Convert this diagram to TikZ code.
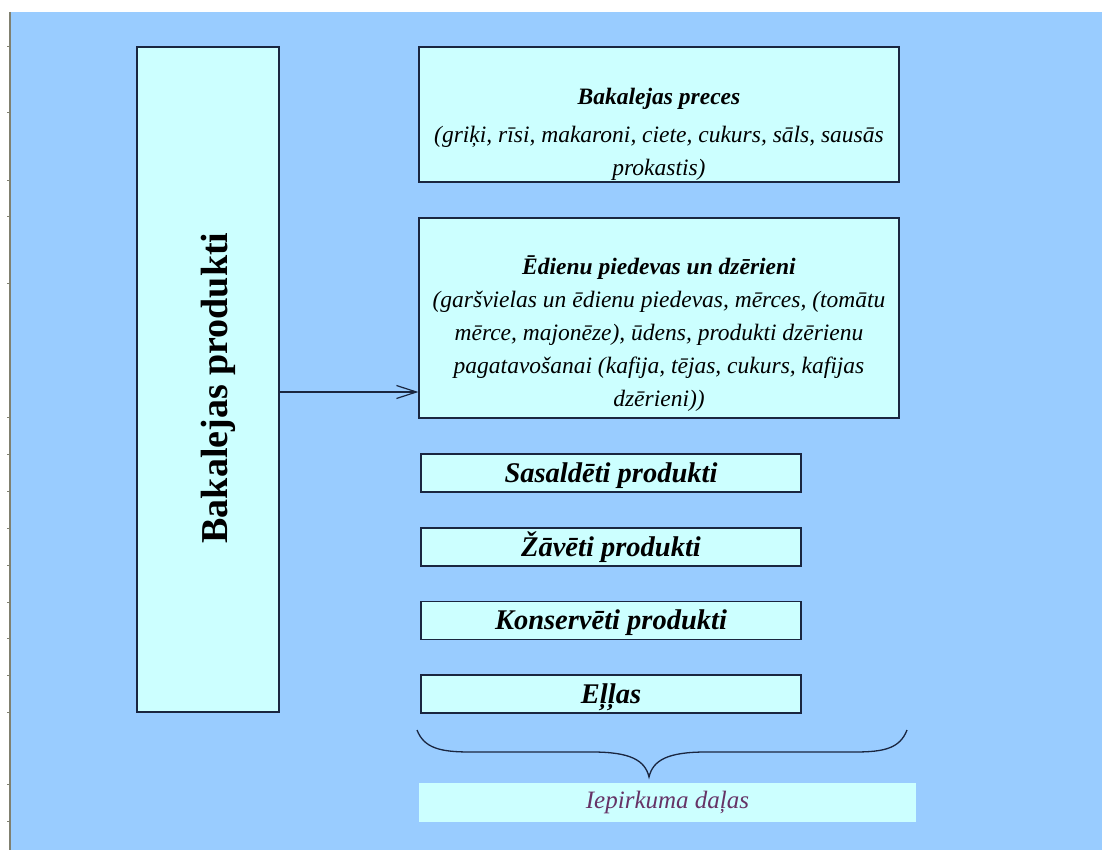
\documentclass[tikz,border=0pt]{standalone}
\usepackage{fontspec}
\setmainfont{Liberation Serif}
\usetikzlibrary{arrows.meta}

\definecolor{sheetblue}{RGB}{153,204,255}
\definecolor{boxfill}{RGB}{204,255,255}
\definecolor{boxline}{RGB}{26,38,64}
\definecolor{partcol}{RGB}{102,51,102}
\definecolor{rulegray}{RGB}{128,128,112}

\tikzset{
  groupbox/.style={draw=boxline, fill=boxfill, line width=1.2pt, inner sep=0pt},
  descr/.style={align=center, inner sep=0pt, font=\itshape\fontsize{23.5}{33}\selectfont},
  partbox/.style={groupbox, minimum width=380pt, minimum height=38pt, text height=20pt, text depth=2pt,
    font=\bfseries\itshape\fontsize{28.5}{28.5}\selectfont},
}

\begin{document}
\begin{tikzpicture}[x=1pt, y=-1pt, >={Straight Barb[length=20pt,width=13pt]}]
    \useasboundingbox (0,0) rectangle (1102,850);
    \fill[white] (0,0) rectangle (1102,850);
    \fill[sheetblue] (11,12) rectangle (1102,850);
    \draw[rulegray, line width=1.2pt] (10,12) -- (10,850);
    \foreach \y in {47,113,181,217,283,417,454,491,528,565,602,638,675,712,784,821}
        \draw[rulegray, line width=1pt] (7,\y) -- (10,\y);

    % left block
    \node[groupbox, minimum width=142pt, minimum height=665pt] (prod) at (208,379.5) {};
    \node[rotate=90, inner sep=0pt, font=\bfseries\fontsize{38}{38}\selectfont] (prodtext) at (218,388) {Bakalejas produkti};

    % groups with descriptions
    \node[groupbox, minimum width=480pt, minimum height=135pt] (bak) at (659,114.5) {};
    \node[descr] (baktext) at (659,134) {{\bfseries\fontsize{23.5}{33}\selectfont Bakalejas preces}\\[5pt]
        (griķi, rīsi, makaroni, ciete, cukurs, sāls, sausās\\ prokastis)};

    \node[groupbox, minimum width=480pt, minimum height=200pt] (edien) at (659,318) {};
    \node[descr] (edientext) at (659,333.5) {{\bfseries\fontsize{23.5}{33}\selectfont Ēdienu piedevas un dzērieni}\\
        (garšvielas un ēdienu piedevas, mērces, (tomātu\\ mērce, majonēze), ūdens, produkti dzērienu\\
        pagatavošanai (kafija, tējas, cukurs, kafijas\\ dzērieni))};

    % single groups
    \node[partbox] (sasal) at (611,473) {Sasaldēti produkti};
    \node[partbox] (zav) at (611,547) {Žāvēti produkti};
    \node[partbox] (kons) at (611,620.5) {Konservēti produkti};
    \node[partbox] (ella) at (611,694) {Eļļas};

    % brace and caption
    \draw[boxline, line width=1.3pt] (417,730) .. controls (424,748) and (440,752) .. (470,752)
        -- (592,752) .. controls (630,752) and (645,760) .. (649,777)
        .. controls (653,760) and (668,752) .. (706,752)
        -- (855,752) .. controls (885,752) and (900,748) .. (907,730);
    \node[fill=boxfill, minimum width=497pt, minimum height=39pt, inner sep=0pt,
        text=partcol, font=\itshape\fontsize{25}{25}\selectfont] (parts) at (667.5,802.5) {Iepirkuma daļas};

    \coordinate (arrowrow) at (0,392);
    \draw[->, boxline, line width=1.2pt] (prod.east |- arrowrow) -- (edien.west |- arrowrow);
\end{tikzpicture}
\end{document}
